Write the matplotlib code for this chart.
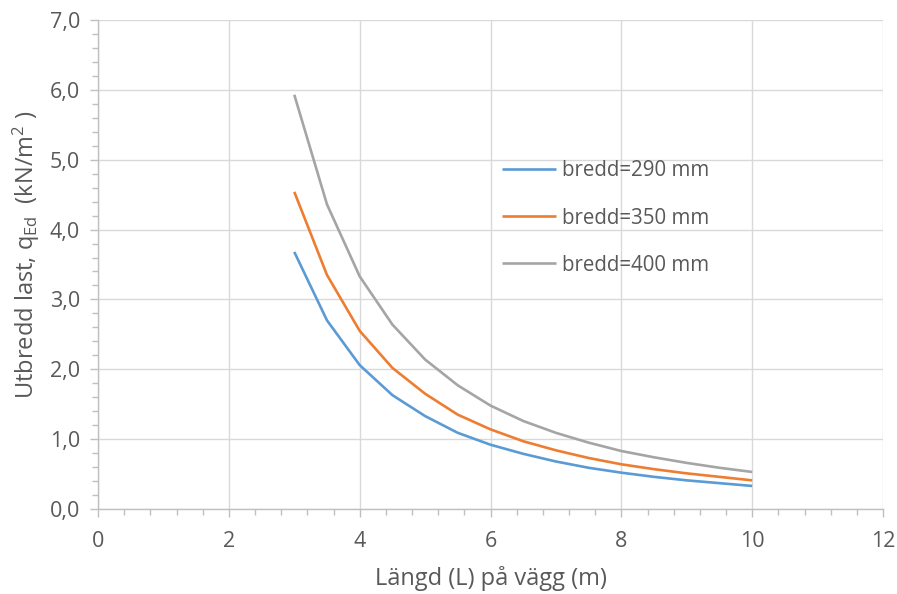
import matplotlib
matplotlib.use("Agg")
from matplotlib import pyplot as plt
from matplotlib.ticker import MultipleLocator, FuncFormatter

# length of wall (m)
lengths = [3.0, 3.5, 4.0, 4.5, 5.0, 5.5, 6.0, 6.5, 7.0, 7.5, 8.0, 8.5, 9.0, 9.5, 10.0]

# distributed load q_Ed (kN/m2) per wall width
q_290 = [3.68, 2.70, 2.06, 1.63, 1.33, 1.09, 0.92, 0.79, 0.68, 0.59, 0.52, 0.46, 0.41, 0.37, 0.33]
q_350 = [4.54, 3.35, 2.55, 2.02, 1.65, 1.35, 1.14, 0.97, 0.84, 0.73, 0.64, 0.57, 0.51, 0.46, 0.41]
q_400 = [5.93, 4.36, 3.33, 2.64, 2.14, 1.77, 1.48, 1.26, 1.09, 0.95, 0.83, 0.74, 0.66, 0.59, 0.53]

series_labels = ["bredd=290 mm", "bredd=350 mm", "bredd=400 mm"]
colors = ["#5B9BD5", "#ED7D31", "#A5A5A5"]

plt.rcParams['font.family'] = ['Open Sans', 'DejaVu Sans']
plt.rcParams['mathtext.fontset'] = 'custom'
plt.rcParams['mathtext.rm'] = 'Open Sans'

txt = "#595959"
axcol = "#BFBFBF"

fig = plt.figure(figsize=(8.97, 5.94), dpi=100)
ax = fig.add_axes([0.1093, 0.1431, 0.8751, 0.8232])

for q, lab, c in zip([q_290, q_350, q_400], series_labels, colors):
    ax.plot(lengths, q, color=c, lw=1.9, label=lab, solid_capstyle='butt')

ax.set_xlim(0, 12)
ax.set_ylim(0, 7)
ax.xaxis.set_major_locator(MultipleLocator(2))
ax.xaxis.set_minor_locator(MultipleLocator(0.4))
ax.yaxis.set_major_locator(MultipleLocator(1))
ax.yaxis.set_minor_locator(MultipleLocator(0.2))
ax.yaxis.set_major_formatter(FuncFormatter(lambda v, p: f"{v:.1f}".replace(".", ",")))

ax.grid(True, which='major', color="#D9D9D9", lw=1.0)
ax.set_axisbelow(True)
for s in ['top', 'right']:
    ax.spines[s].set_visible(False)
for s in ['left', 'bottom']:
    ax.spines[s].set_color(axcol)
    ax.spines[s].set_linewidth(1.0)

ax.tick_params(which='major', length=6, width=1, color=axcol, labelcolor=txt, labelsize=15.5)
ax.tick_params(which='minor', length=4, width=1, color=axcol)
ax.tick_params(axis='y', which='major', pad=7)
ax.tick_params(axis='x', which='major', pad=10)

ax.set_xlabel("Längd (L) på vägg (m)", fontsize=17, color=txt, labelpad=10)
ax.set_ylabel(r"Utbredd last, $\mathregular{q_{Ed}}$  (kN/$\mathregular{m^2}$ )", fontsize=17, color=txt)
ax.yaxis.set_label_coords(-0.072, 0.52)

leg = ax.legend(loc='center left', bbox_to_anchor=(0.515, 0.595), frameon=False, fontsize=14.8,
                borderaxespad=0, borderpad=0, handlelength=2.6, labelspacing=1.27, handletextpad=0.3)
for t in leg.get_texts():
    t.set_color(txt)

fig.savefig("out.png", dpi=100)
